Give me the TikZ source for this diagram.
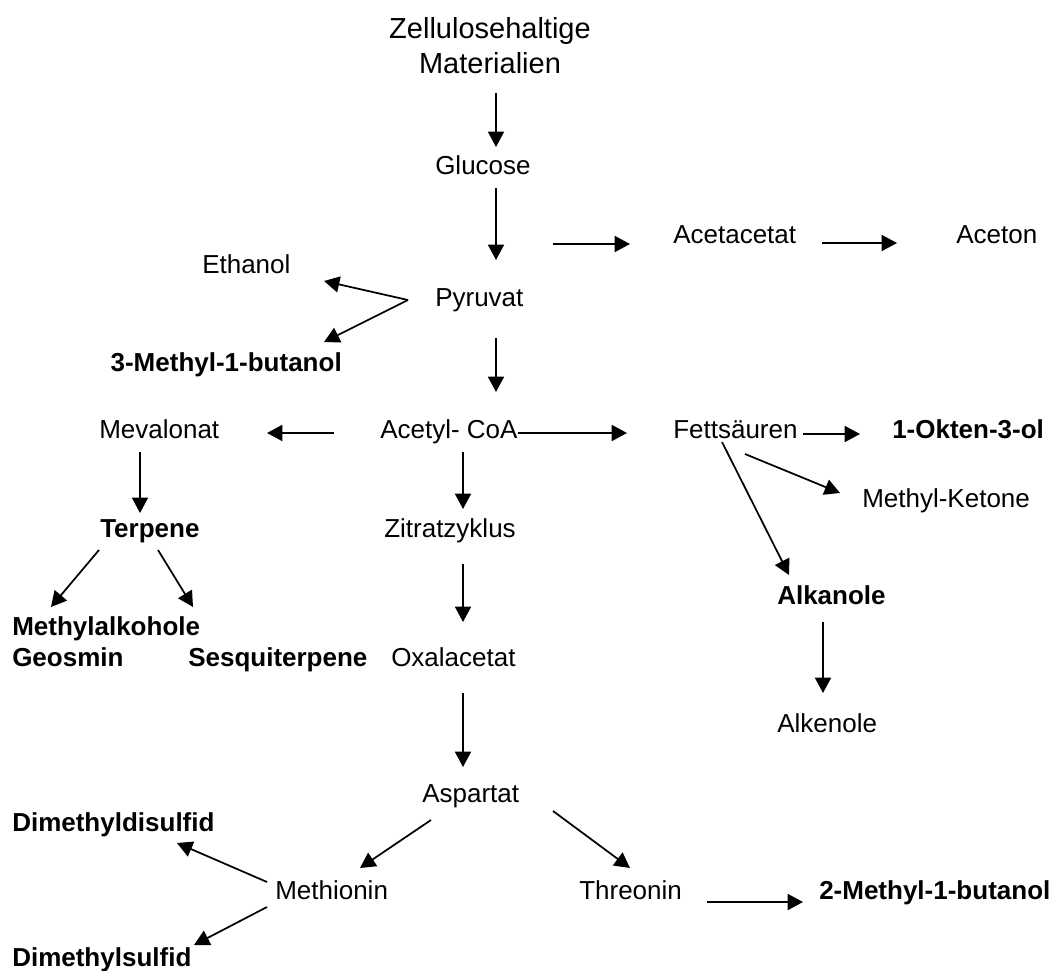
\documentclass[tikz,border=0pt]{standalone}
\usepackage{fontspec}
\setmainfont{Liberation Sans}
\usetikzlibrary{arrows.meta}
\tikzset{
  lbl/.style={inner sep=0pt, anchor=base west, font=\fontsize{19.5}{23}\selectfont},
  blbl/.style={lbl, font=\fontsize{19.5}{23}\selectfont\bfseries},
  arr/.style={line width=1.3pt, -{Triangle[length=11.5pt,width=12pt]}}
}
\begin{document}
\begin{tikzpicture}[x=0.75pt,y=-0.75pt]
\useasboundingbox (0,0) rectangle (1058,971);
% nodes
\node[inner sep=0pt, align=center, font=\fontsize{21.75}{26.25}\selectfont] (zell) at (490,46) {Zellulosehaltige\\Materialien};
\node[lbl] (glc) at (435,174) {Glucose};
\node[lbl] (pyr) at (435,306) {Pyruvat};
\node[lbl] (aca) at (673,243) {Acetacetat};
\node[lbl] (ace) at (956,243) {Aceton};
\node[lbl] (eth) at (202,273) {Ethanol};
\node[blbl, anchor=base east] (mb3) at (342,371) {3-Methyl-1-butanol};
\node[lbl] (coa) at (380,438) {Acetyl- CoA};
\node[lbl] (mev) at (99,438) {Mevalonat};
\node[lbl] (fet) at (673,438) {Fettsäuren};
\node[blbl] (okt) at (892,438) {1-Okten-3-ol};
\node[lbl] (mk) at (862,507) {Methyl-Ketone};
\node[blbl] (ter) at (100,537) {Terpene};
\node[lbl] (zit) at (384,537) {Zitratzyklus};
\node[blbl] (alka) at (777,604) {Alkanole};
\node[blbl, anchor=west, align=left] (mal) at (12,642) {Methylalkohole\\Geosmin};
\node[blbl] (ses) at (188,666) {Sesquiterpene};
\node[lbl] (oxa) at (391,666) {Oxalacetat};
\node[lbl] (alke) at (777,732) {Alkenole};
\node[lbl] (asp) at (422,802) {Aspartat};
\node[blbl] (dmds) at (12,831) {Dimethyldisulfid};
\node[lbl] (met) at (275,899) {Methionin};
\node[lbl] (thr) at (579,899) {Threonin};
\node[blbl] (mb2) at (819,899) {2-Methyl-1-butanol};
\node[blbl] (dms) at (12,966) {Dimethylsulfid};
% connector end points
\coordinate (zg1) at (496,93);   \coordinate (zg2) at (496,147);
\coordinate (gp1) at (496,188);  \coordinate (gp2) at (496,260);
\coordinate (pa1) at (553,244);  \coordinate (pa2) at (630,244);
\coordinate (aa1) at (822,243);  \coordinate (aa2) at (897,243);
\coordinate (pe1) at (408,300);  \coordinate (pe2) at (324,281);
\coordinate (pm2) at (324,342);
\coordinate (pc1) at (496,338);  \coordinate (pc2) at (496,392);
\coordinate (cm1) at (334,433);  \coordinate (cm2) at (267,433);
\coordinate (cf1) at (518,433);  \coordinate (cf2) at (627,433);
\coordinate (fo1) at (803,434);  \coordinate (fo2) at (860,434);
\coordinate (fk1) at (745,454);  \coordinate (fk2) at (840,493);
\coordinate (fa1) at (722,442);  \coordinate (fa2) at (789,575);
\coordinate (mt1) at (140,452);  \coordinate (mt2) at (140,513);
\coordinate (tm1) at (99,550);   \coordinate (tm2) at (51,607);
\coordinate (ts1) at (158,550);  \coordinate (ts2) at (193,607);
\coordinate (cz1) at (463,452);  \coordinate (cz2) at (463,509);
\coordinate (zo1) at (463,564);  \coordinate (zo2) at (463,622);
\coordinate (oa1) at (463,693);  \coordinate (oa2) at (463,767);
\coordinate (ak1) at (823,622);  \coordinate (ak2) at (823,693);
\coordinate (am1) at (431,820);  \coordinate (am2) at (360,868);
\coordinate (at1) at (553,811);  \coordinate (at2) at (630,868);
\coordinate (md1) at (267,882);  \coordinate (md2) at (177,843);
\coordinate (ms1) at (267,907);  \coordinate (ms2) at (194,945);
\coordinate (tb1) at (707,902);  \coordinate (tb2) at (803,902);
% connectors
\draw[arr] (zg1) -- (zg2);
\draw[arr] (gp1) -- (gp2);
\draw[arr] (pa1) -- (pa2);
\draw[arr] (aa1) -- (aa2);
\draw[arr] (pe1) -- (pe2);
\draw[arr] (pe1) -- (pm2);
\draw[arr] (pc1) -- (pc2);
\draw[arr] (cm1) -- (cm2);
\draw[arr] (cf1) -- (cf2);
\draw[arr] (fo1) -- (fo2);
\draw[arr] (fk1) -- (fk2);
\draw[arr] (fa1) -- (fa2);
\draw[arr] (mt1) -- (mt2);
\draw[arr] (tm1) -- (tm2);
\draw[arr] (ts1) -- (ts2);
\draw[arr] (cz1) -- (cz2);
\draw[arr] (zo1) -- (zo2);
\draw[arr] (oa1) -- (oa2);
\draw[arr] (ak1) -- (ak2);
\draw[arr] (am1) -- (am2);
\draw[arr] (at1) -- (at2);
\draw[arr] (md1) -- (md2);
\draw[arr] (ms1) -- (ms2);
\draw[arr] (tb1) -- (tb2);
\end{tikzpicture}
\end{document}
